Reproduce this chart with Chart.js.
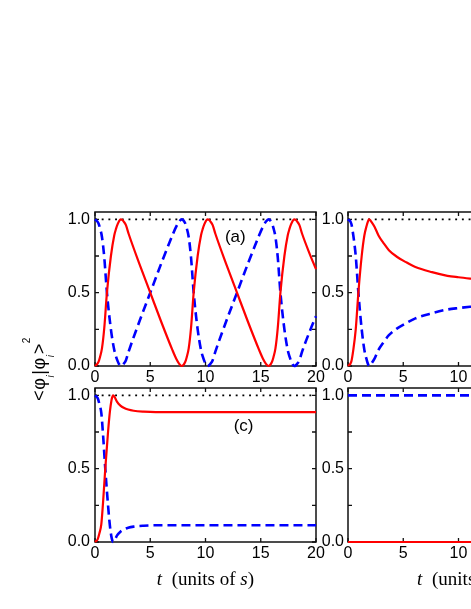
<!DOCTYPE html>
<html>
<head>
<meta charset="utf-8">
<script src="https://cdn.jsdelivr.net/npm/chart.js@4.4.1/dist/chart.umd.min.js"></script>
<style>
  html, body { margin: 0; padding: 0; background: #fff; overflow: hidden; }
  #wrap { position: relative; width: 471px; height: 609px; overflow: hidden; background: #fff; }
  #wrap canvas { position: absolute; }
</style>
</head>
<body>
<div id="wrap">
  <canvas id="pa" width="330" height="206" style="left:0px;top:190px"></canvas>
  <canvas id="pb" width="275" height="206" style="left:308px;top:190px"></canvas>
  <canvas id="pc" width="330" height="309" style="left:0px;top:300px"></canvas>
  <canvas id="pd" width="275" height="309" style="left:308px;top:300px"></canvas>
</div>
<script>
// panel (a): oscillating populations
const tA = [0, 0.3, 0.45, 0.63, 0.84, 1.08, 1.44, 1.74, 1.9, 2.04, 2.18, 2.33, 2.47, 2.6, 2.8, 3.05, 4.0, 5.0, 6.0, 7.0, 7.35, 7.62, 7.85,
  8.15, 8.3, 8.48, 8.69, 8.93, 9.29, 9.59, 9.75, 9.89, 10.03, 10.18, 10.32, 10.45, 10.65, 10.9, 11.85, 12.85, 13.85, 14.85, 15.2, 15.47, 15.7,
  16.0, 16.15, 16.33, 16.54, 16.78, 17.14, 17.44, 17.6, 17.74, 17.88, 18.03, 18.17, 18.3, 18.5, 18.75, 19.4, 20]
const redA = [0, 0.025, 0.06, 0.12, 0.26, 0.5, 0.75, 0.89, 0.935, 0.965, 0.988, 1.0, 0.996, 0.985, 0.96, 0.9, 0.7, 0.5, 0.3, 0.11, 0.05, 0.015, 0,
  0.025, 0.06, 0.12, 0.26, 0.5, 0.75, 0.89, 0.935, 0.965, 0.988, 1.0, 0.996, 0.985, 0.96, 0.9, 0.7, 0.5, 0.3, 0.11, 0.05, 0.015, 0,
  0.025, 0.06, 0.12, 0.26, 0.5, 0.75, 0.89, 0.935, 0.965, 0.988, 1.0, 0.996, 0.985, 0.96, 0.9, 0.77, 0.66]
const blueA = [1, 0.975, 0.94, 0.88, 0.74, 0.5, 0.25, 0.11, 0.065, 0.035, 0.012, 0, 0.004, 0.015, 0.04, 0.1, 0.3, 0.5, 0.7, 0.89, 0.95, 0.985, 1,
  0.975, 0.94, 0.88, 0.74, 0.5, 0.25, 0.11, 0.065, 0.035, 0.012, 0, 0.004, 0.015, 0.04, 0.1, 0.3, 0.5, 0.7, 0.89, 0.95, 0.985, 1,
  0.975, 0.94, 0.88, 0.74, 0.5, 0.25, 0.11, 0.065, 0.035, 0.012, 0, 0.004, 0.015, 0.04, 0.1, 0.23, 0.34]

// panel (b): damped, relaxing towards ~0.6 / ~0.4
const tB = [0, 0.3, 0.48, 0.7, 0.94, 1.24, 1.48, 1.7, 1.8, 1.9, 2.0, 2.1, 2.4, 2.76, 3.2, 3.7, 4.42, 5.2, 6.1, 7.6, 9.0, 10.0, 11.2, 12.5]
const redB = [0, 0.03, 0.11, 0.25, 0.5, 0.75, 0.89, 0.96, 0.985, 1.0, 0.995, 0.985, 0.95, 0.89, 0.84, 0.79, 0.745, 0.71, 0.675, 0.64, 0.615, 0.605, 0.595, 0.585]
const blueB = [1, 0.97, 0.89, 0.75, 0.5, 0.25, 0.11, 0.04, 0.015, 0, 0.005, 0.015, 0.05, 0.11, 0.16, 0.21, 0.255, 0.29, 0.325, 0.36, 0.385, 0.395, 0.405, 0.415]

// panel (c): fast settling
const tC = [0, 0.25, 0.4, 0.57, 0.72, 0.93, 1.18, 1.35, 1.5, 1.57, 1.63, 1.7, 1.8, 2.0, 2.3, 2.6, 3.0, 3.5, 4.4, 5.5, 7, 20]
const redC = [0, 0.02, 0.06, 0.12, 0.26, 0.5, 0.75, 0.89, 0.97, 0.99, 1.0, 0.997, 0.985, 0.955, 0.93, 0.915, 0.903, 0.895, 0.889, 0.886, 0.886, 0.886]
const blueC = [1, 0.98, 0.94, 0.88, 0.74, 0.5, 0.25, 0.11, 0.03, 0.01, 0, 0.003, 0.015, 0.045, 0.07, 0.085, 0.097, 0.105, 0.111, 0.114, 0.114, 0.114]

// panel (d): frozen
const tD = [0, 20]
const redD = [0, 0]
const blueD = [1, 1]

// dotted reference at 1
const tRef = [0, 20]
const refLine = [1, 1]

const xTickVals = [0, 5, 10, 15, 20]
const yTickVals = [0, 0.25, 0.5, 0.75, 1.0]

const sans = 'Arial, "Liberation Sans", sans-serif'
const serif = '"Liberation Serif", "Times New Roman", serif'

const pts = (ts, ys) => ts.map((t, i) => ({x: t, y: ys[i]}))

//frame with inward ticks, drawn under the curves
const frameTicks = {
  id: 'frameTicks',
  beforeDatasetsDraw(chart) {
    const {ctx, chartArea: a, scales: {x, y}} = chart
    ctx.save()
    ctx.strokeStyle = '#111'
    ctx.lineWidth = 1.5
    ctx.strokeRect(a.left, a.top, a.right - a.left, a.bottom - a.top)
    ctx.lineWidth = 1.3
    ctx.beginPath()
    xTickVals.forEach(v => {
      const px = x.getPixelForValue(v)
      ctx.moveTo(px, a.bottom); ctx.lineTo(px, a.bottom - 4)
      ctx.moveTo(px, a.top); ctx.lineTo(px, a.top + 4)
    })
    yTickVals.forEach(v => {
      const py = y.getPixelForValue(v)
      ctx.moveTo(a.left, py); ctx.lineTo(a.left + 4, py)
      ctx.moveTo(a.right, py); ctx.lineTo(a.right - 4, py)
    })
    ctx.stroke()
    ctx.restore()
  }
}

function drawYTitle(ctx, cx, cy) {
  const big = '18px ' + sans
  const sub = 'italic 10px ' + sans
  const sup = '10px ' + sans
  const parts = [['<', big, 0], ['φ', big, 0], ['i', sub, 9], ['|', big, 0], ['φ', big, 0], ['i', sub, 9], ['>', big, 0], ['2', sup, -15]]
  ctx.save()
  let w = 0
  parts.forEach(p => { ctx.font = p[1]; w += ctx.measureText(p[0]).width + 0.6 })
  ctx.translate(cx, cy)
  ctx.rotate(-Math.PI / 2)
  ctx.fillStyle = '#000'
  ctx.textBaseline = 'alphabetic'
  let u = -w / 2
  parts.forEach(p => {
    ctx.font = p[1]
    ctx.fillText(p[0], u, p[2])
    u += ctx.measureText(p[0]).width + 0.6
  })
  ctx.restore()
}

function drawXTitle(ctx, x0, base) {
  ctx.save()
  ctx.fillStyle = '#000'
  ctx.textBaseline = 'alphabetic'
  ctx.font = 'italic 19px ' + serif
  ctx.fillText('t', x0, base)
  let x = x0 + 15
  ctx.font = '19px ' + serif
  ctx.fillText('(units of ', x, base)
  x += ctx.measureText('(units of ').width
  ctx.font = 'italic 19px ' + serif
  ctx.fillText('s', x, base)
  x += ctx.measureText('s').width
  ctx.font = '19px ' + serif
  ctx.fillText(')', x, base)
  ctx.restore()
}

const annot = {
  id: 'annot',
  afterDraw(chart, args, opts) {
    const {ctx, scales: {x, y}} = chart
    if (opts.label) {
      ctx.save()
      ctx.font = '17px ' + sans
      ctx.fillStyle = '#000'
      ctx.textAlign = 'center'
      ctx.textBaseline = 'middle'
      ctx.fillText(opts.label, x.getPixelForValue(opts.lx), y.getPixelForValue(opts.ly))
      ctx.restore()
    }
    if (opts.xTitle) drawXTitle(ctx, opts.xTitle[0], opts.xTitle[1])
    if (opts.yTitle) drawYTitle(ctx, opts.yTitle[0], opts.yTitle[1])
  }
}

function makePanel(id, p) {
  const sets = [
    {data: pts(p.t, p.red), borderColor: '#ff0000', borderWidth: 2.2, cubicInterpolationMode: 'monotone'},
    {data: pts(p.t, p.blue), borderColor: '#0000ff', borderWidth: 2.6, borderDash: [9, 5], cubicInterpolationMode: 'monotone'}
  ]
  if (p.ref) sets.push({data: pts(tRef, refLine), borderColor: '#000', borderWidth: 1.9, borderDash: [1.9, 4.8]})
  return new Chart(document.getElementById(id), {
    type: 'line',
    data: {datasets: sets},
    options: {
      responsive: false,
      animation: false,
      events: [],
      layout: {padding: {left: 0, right: 14, top: p.padTop, bottom: 0}},
      elements: {point: {radius: 0}, line: {fill: false}},
      clip: false,
      plugins: {
        legend: {display: false},
        tooltip: {enabled: false},
        annot: p.annot
      },
      scales: {
        x: {
          type: 'linear', min: 0, max: 20,
          grid: {display: false, drawTicks: false},
          border: {display: false},
          ticks: {stepSize: 5, padding: 2, color: '#000', maxRotation: 0, autoSkip: false, font: {family: sans, size: 16}},
          afterFit: s => { s.height = p.xH }
        },
        y: {
          type: 'linear', min: 0, max: 1.05, bounds: 'data',
          grid: {display: false, drawTicks: false},
          border: {display: false},
          ticks: {stepSize: 0.5, includeBounds: false, padding: p.yPad, color: '#000', font: {family: sans, size: 16},
            callback: v => v.toFixed(1)},
          afterFit: s => { s.width = p.yW }
        }
      }
    },
    plugins: [frameTicks, annot]
  })
}

makePanel('pa', {t: tA, red: redA, blue: blueA, ref: true, padTop: 22, xH: 30, yW: 95, yPad: 5,
  annot: {label: '(a)', lx: 12.7, ly: 0.88}})
makePanel('pb', {t: tB, red: redB, blue: blueB, ref: true, padTop: 22, xH: 30, yW: 40, yPad: 4,
  annot: {}})
makePanel('pc', {t: tC, red: redC, blue: blueC, ref: true, padTop: 88, xH: 67, yW: 95, yPad: 5,
  annot: {label: '(c)', lx: 13.45, ly: 0.786, xTitle: [156.7, 285], yTitle: [45, 69]}})
makePanel('pd', {t: tD, red: redD, blue: blueD, ref: false, padTop: 88, xH: 67, yW: 40, yPad: 4,
  annot: {xTitle: [109, 285]}})
</script>
</body>
</html>
